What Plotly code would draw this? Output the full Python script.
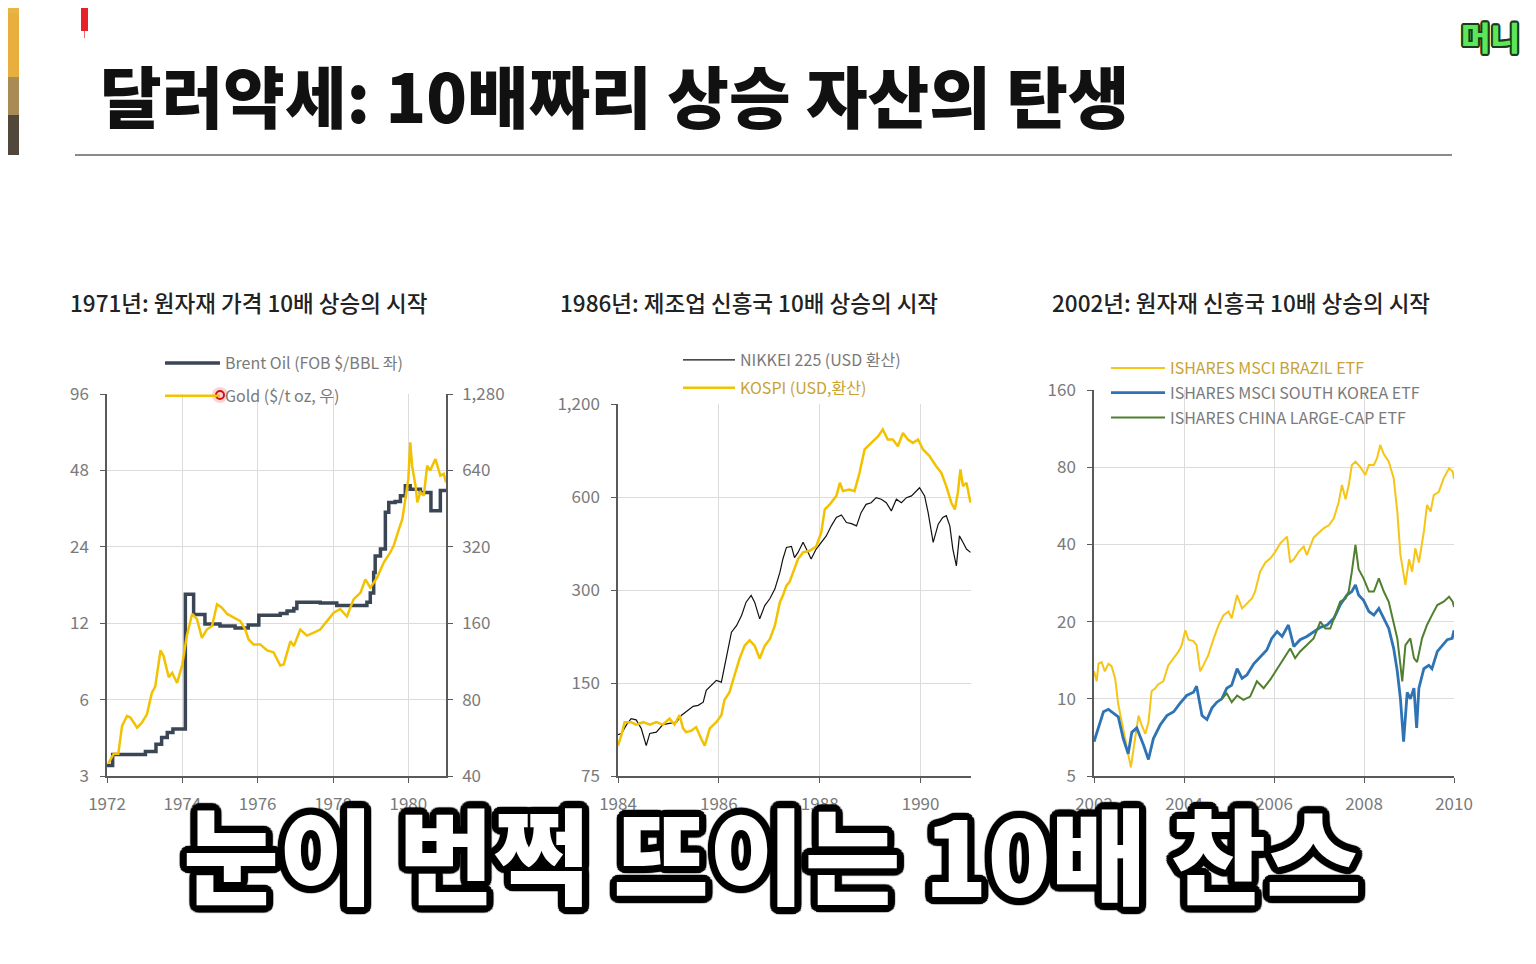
import math
import plotly.graph_objects as go

W, H = 1536, 964

# ---- panel 1: 1971 commodities (Brent oil left axis, gold right axis)
oil_year = [1972.0, 1972.15, 1973.02, 1973.3, 1973.45, 1973.6, 1973.75, 1974.08, 1974.3, 1974.6,
            1975.0, 1975.4, 1975.75, 1976.03, 1976.6, 1976.78, 1976.96, 1977.04, 1977.66, 1978.1,
            1978.7, 1978.9, 1978.99, 1979.08, 1979.12, 1979.26, 1979.39, 1979.48, 1979.65, 1979.79,
            1979.92, 1980.05, 1980.32, 1980.6, 1980.85, 1981.0]
oil_price = [3.3, 3.65, 3.75, 4.0, 4.25, 4.45, 4.6, 15.6, 13.0, 11.9,
             11.7, 11.5, 11.8, 12.9, 13.1, 13.4, 13.7, 14.5, 14.4, 14.1,
             14.1, 14.5, 15.8, 19.0, 22.1, 23.5, 32.8, 35.9, 36.2, 38.1,
             41.8, 40.5, 39.3, 33.3, 40.0, 40.5]

gold_year = [1972.04, 1972.18, 1972.3, 1972.4, 1972.53, 1972.62, 1972.71, 1972.8, 1972.93, 1973.06,
             1973.19, 1973.28, 1973.42, 1973.5, 1973.64, 1973.73, 1973.86, 1974.0, 1974.12, 1974.26,
             1974.39, 1974.52, 1974.65, 1974.79, 1974.92, 1975.05, 1975.19, 1975.36, 1975.54, 1975.67,
             1975.76, 1975.89, 1976.07, 1976.25, 1976.42, 1976.6, 1976.69, 1976.87, 1976.96, 1977.13,
             1977.31, 1977.49, 1977.66, 1977.84, 1978.02, 1978.19, 1978.37, 1978.55, 1978.73, 1978.86,
             1978.99, 1979.17, 1979.35, 1979.52, 1979.61, 1979.75, 1979.84, 1979.92, 1980.0, 1980.05,
             1980.1, 1980.19, 1980.24, 1980.32, 1980.41, 1980.5, 1980.58, 1980.72, 1980.85, 1980.94,
             1981.0]
gold_price = [45, 49, 49, 63, 69, 68, 65, 62, 65, 70,
              85, 90, 125, 119, 98, 102, 93, 110, 143, 174,
              166, 140, 151, 156, 190, 184, 174, 168, 163, 151,
              138, 132, 132, 125, 123, 109, 110, 136, 130, 151,
              143, 147, 151, 163, 176, 182, 170, 199, 211, 238,
              221, 242, 278, 304, 323, 376, 411, 493, 591, 826,
              668, 557, 479, 525, 509, 668, 640, 709, 610, 620,
              574]

# ---- panel 2: 1986 manufacturing EM (USD terms)
nikkei_year = [1984.0, 1984.07, 1984.17, 1984.26, 1984.36, 1984.46, 1984.56, 1984.63, 1984.76, 1984.89,
               1985.02, 1985.16, 1985.26, 1985.35, 1985.49, 1985.59, 1985.69, 1985.75, 1985.85, 1985.95,
               1986.05, 1986.15, 1986.25, 1986.35, 1986.45, 1986.54, 1986.64, 1986.71, 1986.81, 1986.91,
               1987.01, 1987.11, 1987.21, 1987.27, 1987.34, 1987.44, 1987.5, 1987.57, 1987.67, 1987.77,
               1987.83, 1987.93, 1988.03, 1988.13, 1988.23, 1988.33, 1988.43, 1988.53, 1988.63, 1988.73,
               1988.82, 1988.92, 1989.02, 1989.12, 1989.22, 1989.32, 1989.42, 1989.52, 1989.62, 1989.72,
               1989.82, 1989.92, 1989.98, 1990.08, 1990.15, 1990.25, 1990.35, 1990.44, 1990.51, 1990.58,
               1990.64, 1990.71, 1990.77, 1990.84, 1990.91, 1990.99]
nikkei = [102, 103, 110, 115, 114, 107, 94, 103, 104, 110,
          111, 112, 118, 121, 126, 127, 130, 142, 147, 153,
          151, 180, 219, 230, 248, 274, 288, 274, 242, 267,
          281, 302, 342, 378, 412, 415, 382, 397, 428, 397,
          378, 407, 428, 449, 484, 515, 525, 496, 492, 484,
          534, 568, 575, 597, 590, 575, 541, 590, 575, 597,
          605, 627, 643, 605, 534, 428, 490, 515, 522, 484,
          407, 359, 449, 428, 407, 397]

kospi_year = [1984.0, 1984.07, 1984.13, 1984.26, 1984.36, 1984.5, 1984.63, 1984.76, 1984.89, 1985.02,
              1985.12, 1985.22, 1985.29, 1985.35, 1985.45, 1985.55, 1985.65, 1985.72, 1985.82, 1985.95,
              1986.05, 1986.11, 1986.21, 1986.31, 1986.41, 1986.51, 1986.61, 1986.71, 1986.81, 1986.91,
              1987.01, 1987.11, 1987.21, 1987.27, 1987.34, 1987.4, 1987.5, 1987.57, 1987.67, 1987.8,
              1987.93, 1988.03, 1988.1, 1988.2, 1988.33, 1988.4, 1988.46, 1988.59, 1988.69, 1988.79,
              1988.89, 1989.02, 1989.16, 1989.25, 1989.35, 1989.45, 1989.55, 1989.65, 1989.75, 1989.85,
              1989.95, 1990.05, 1990.18, 1990.31, 1990.41, 1990.51, 1990.61, 1990.68, 1990.74, 1990.79,
              1990.84, 1990.91, 1990.99]
kospi = [94, 102, 112, 112, 110, 112, 110, 112, 110, 115,
         110, 118, 107, 104, 105, 108, 99, 94, 107, 112,
         118, 132, 140, 159, 180, 198, 206, 198, 180, 198,
         208, 230, 274, 288, 310, 318, 351, 378, 397, 402,
         415, 460, 547, 568, 605, 667, 627, 634, 627, 719,
         855, 898, 944, 992, 921, 921, 876, 967, 921, 898,
         921, 855, 813, 755, 719, 651, 575, 547, 621, 737,
         651, 667, 575]

# ---- panel 3: 2002 commodity EM ETFs
brazil_year = [2002.0, 2002.06, 2002.1, 2002.17, 2002.24, 2002.32, 2002.39, 2002.47, 2002.54, 2002.62,
               2002.69, 2002.76, 2002.82, 2002.88, 2002.99, 2003.06, 2003.14, 2003.21, 2003.28, 2003.36,
               2003.43, 2003.54, 2003.65, 2003.77, 2003.88, 2003.95, 2004.03, 2004.1, 2004.21, 2004.28,
               2004.36, 2004.43, 2004.54, 2004.66, 2004.77, 2004.88, 2004.99, 2005.06, 2005.18, 2005.29,
               2005.4, 2005.51, 2005.58, 2005.69, 2005.81, 2005.92, 2006.03, 2006.14, 2006.29, 2006.36,
               2006.44, 2006.55, 2006.66, 2006.73, 2006.88, 2006.99, 2007.1, 2007.22, 2007.33, 2007.44,
               2007.51, 2007.59, 2007.66, 2007.73, 2007.81, 2007.92, 2008.03, 2008.11, 2008.22, 2008.29,
               2008.36, 2008.44, 2008.55, 2008.66, 2008.74, 2008.81, 2008.88, 2008.92, 2009.0, 2009.07,
               2009.14, 2009.22, 2009.33, 2009.4, 2009.48, 2009.55, 2009.66, 2009.77, 2009.89, 2009.97,
               2010.0]
brazil = [12.8, 11.7, 13.7, 13.9, 12.8, 13.7, 13.4, 12.0, 9.5, 8.1,
          7.0, 6.0, 5.4, 6.4, 8.6, 7.9, 7.3, 8.1, 10.7, 11.0,
          11.4, 11.7, 13.5, 14.4, 15.3, 16.2, 18.5, 17.0, 16.8, 16.2,
          12.8, 13.5, 14.8, 17.2, 19.4, 21.2, 21.9, 20.6, 25.4, 22.5,
          23.5, 24.6, 26.2, 31.3, 34.0, 35.3, 37.5, 40.4, 42.9, 34.0,
          35.0, 37.5, 39.2, 36.3, 42.5, 44.2, 46.2, 47.5, 50.6, 58.7,
          68.2, 60.0, 68.0, 81.6, 84.0, 80.0, 74.6, 81.6, 81.6, 86.7,
          97.7, 90.0, 84.0, 72.4, 53.7, 36.4, 31.3, 27.8, 35.0, 31.3,
          38.6, 34.0, 44.8, 57.0, 53.7, 62.3, 64.0, 72.4, 79.2, 77.0,
          72.0]

korea_year = [2002.0, 2002.1, 2002.21, 2002.32, 2002.43, 2002.54, 2002.65, 2002.76, 2002.84, 2002.95,
              2003.1, 2003.21, 2003.32, 2003.47, 2003.62, 2003.77, 2003.91, 2004.06, 2004.21, 2004.28,
              2004.4, 2004.51, 2004.62, 2004.73, 2004.84, 2004.95, 2005.06, 2005.18, 2005.29, 2005.4,
              2005.55, 2005.69, 2005.84, 2005.95, 2006.07, 2006.18, 2006.32, 2006.44, 2006.58, 2006.73,
              2006.88, 2007.03, 2007.18, 2007.33, 2007.47, 2007.62, 2007.73, 2007.81, 2007.88, 2007.99,
              2008.11, 2008.22, 2008.33, 2008.44, 2008.55, 2008.66, 2008.74, 2008.81, 2008.85, 2008.88,
              2008.96, 2009.03, 2009.11, 2009.17, 2009.22, 2009.33, 2009.44, 2009.51, 2009.63, 2009.74,
              2009.85, 2009.96, 2010.0]
korea = [6.8, 7.7, 8.9, 9.1, 8.8, 8.5, 7.0, 6.1, 7.4, 7.7,
         6.6, 5.8, 7.0, 7.9, 8.6, 8.9, 9.6, 10.3, 10.6, 11.2,
         8.6, 8.3, 9.2, 9.7, 10.0, 11.0, 11.3, 13.1, 12.0, 12.4,
         13.7, 14.6, 15.5, 17.2, 18.3, 17.5, 19.4, 16.0, 17.0, 17.5,
         18.3, 19.0, 19.4, 20.6, 23.2, 25.4, 26.2, 27.8, 25.4, 24.2,
         21.9, 21.2, 22.5, 20.6, 18.8, 15.7, 12.8, 10.0, 7.9, 6.8,
         10.6, 10.0, 11.0, 7.7, 11.0, 13.1, 13.5, 13.1, 15.3, 16.2,
         17.0, 17.2, 18.5]

china_year = [2004.84, 2004.95, 2005.06, 2005.18, 2005.32, 2005.47, 2005.62, 2005.77, 2005.92, 2006.07,
              2006.21, 2006.36, 2006.47, 2006.58, 2006.73, 2006.88, 2007.03, 2007.14, 2007.25, 2007.36,
              2007.47, 2007.59, 2007.66, 2007.73, 2007.81, 2007.88, 2007.99, 2008.11, 2008.22, 2008.33,
              2008.44, 2008.55, 2008.66, 2008.74, 2008.81, 2008.85, 2008.92, 2009.03, 2009.11, 2009.18,
              2009.29, 2009.4, 2009.51, 2009.63, 2009.77, 2009.89, 2009.97, 2010.0]
china = [10.0, 10.5, 9.7, 10.3, 9.9, 10.2, 11.7, 11.0, 11.9, 13.1,
         14.4, 15.7, 14.4, 15.3, 16.2, 17.2, 20.0, 18.8, 18.8, 21.2,
         23.9, 24.6, 26.2, 31.3, 39.8, 32.0, 29.5, 26.2, 26.2, 29.5,
         26.2, 23.9, 20.0, 17.2, 13.5, 11.7, 16.2, 17.2, 14.4, 13.9,
         17.2, 19.4, 21.2, 23.2, 23.9, 25.0, 23.9, 22.8]

# tick labels
p1_years = [1972, 1974, 1976, 1978, 1980]
p1_left = [3, 6, 12, 24, 48, 96]
p1_right = [40, 80, 160, 320, 640, 1280]
p1_right_text = ["40", "80", "160", "320", "640", "1,280"]
p2_years = [1984, 1986, 1988, 1990]
p2_ticks = [75, 150, 300, 600, 1200]
p2_text = ["75", "150", "300", "600", "1,200"]
p3_years = [2002, 2004, 2006, 2008, 2010]
p3_ticks = [5, 10, 20, 40, 80, 160]

# the page body adds an 8px margin, so positions are shifted back by that much
OFF = 8


def px(x):
    return (x - OFF) / W


def py(y):
    return 1 - (y - OFF) / H


FONT = "Noto Sans CJK KR, Noto Sans, sans-serif"
GRID = "#dcdcdc"
AXIS = "#5a5a5a"
TICKF = dict(family=FONT, size=17, color="#7a7a7a")
GOLD = "#f2c200"
LEGF = dict(family=FONT, size=16, color="#7a7a7a")

fig = go.Figure()

fig.add_trace(go.Scatter(x=oil_year, y=oil_price, mode="lines", line_shape="hv",
                         name="Brent Oil (FOB $/BBL 좌)", line=dict(color="#3a4656", width=3.5),
                         xaxis="x", yaxis="y", legend="legend", legendgroup="a"))
fig.add_trace(go.Scatter(x=gold_year, y=gold_price, mode="lines",
                         name="Gold ($/t oz, 우)", line=dict(color=GOLD, width=2.5),
                         xaxis="x", yaxis="y2", legend="legend", legendgroup="b"))

fig.add_trace(go.Scatter(x=nikkei_year, y=nikkei, mode="lines",
                         name="NIKKEI 225 (USD 환산)", line=dict(color="#111111", width=1.2),
                         xaxis="x2", yaxis="y3", legend="legend2", legendgroup="c"))
fig.add_trace(go.Scatter(x=kospi_year, y=kospi, mode="lines",
                         name="<span style='color:#c9a233'>KOSPI (USD,환산)</span>",
                         line=dict(color=GOLD, width=2.5),
                         xaxis="x2", yaxis="y3", legend="legend2", legendgroup="d"))

fig.add_trace(go.Scatter(x=brazil_year, y=brazil, mode="lines",
                         name="<span style='color:#c9a233'>ISHARES MSCI BRAZIL ETF</span>",
                         line=dict(color="#f5c518", width=2),
                         xaxis="x3", yaxis="y4", legend="legend3", legendgroup="e"))
fig.add_trace(go.Scatter(x=korea_year, y=korea, mode="lines",
                         name="ISHARES MSCI SOUTH KOREA ETF", line=dict(color="#2e74b5", width=2.8),
                         xaxis="x3", yaxis="y4", legend="legend3", legendgroup="f"))
fig.add_trace(go.Scatter(x=china_year, y=china, mode="lines",
                         name="ISHARES CHINA LARGE-CAP ETF", line=dict(color="#4f7f2f", width=2),
                         xaxis="x3", yaxis="y4", legend="legend3", legendgroup="g"))

xcommon = dict(ticks="outside", ticklen=5, tickcolor=AXIS, showline=True, linecolor=AXIS,
               linewidth=1.5, showgrid=True, gridcolor=GRID, zeroline=False, tickfont=TICKF,
               ticklabelstandoff=7, automargin=False)
ycommon = dict(type="log", ticks="outside", ticklen=5, tickcolor=AXIS, showline=True,
               linecolor=AXIS, linewidth=1.5, showgrid=True, gridcolor=GRID, zeroline=False,
               tickfont=TICKF, ticklabelstandoff=8, automargin=False)

fig.update_layout(
    width=W, height=H,
    margin=dict(l=0, r=0, t=0, b=0, autoexpand=False),
    paper_bgcolor="white", plot_bgcolor="white",
    xaxis=dict(domain=[px(107), px(446)], anchor="y", range=[1972, 1981], tickvals=p1_years, **xcommon),
    yaxis=dict(domain=[py(776), py(394)], anchor="x", range=[math.log10(3), math.log10(96)],
               tickvals=p1_left, ticktext=[str(v) for v in p1_left], **ycommon),
    yaxis2=dict(overlaying="y", side="right", anchor="x", type="log",
                range=[math.log10(40), math.log10(1280)], tickvals=p1_right, ticktext=p1_right_text,
                ticks="outside", ticklen=5, tickcolor=AXIS, showline=True, linecolor=AXIS,
                linewidth=1.5, showgrid=False, zeroline=False, tickfont=TICKF, ticklabelstandoff=6,
                automargin=False),
    xaxis2=dict(domain=[px(618), px(971)], anchor="y3", range=[1984, 1991], tickvals=p2_years, **xcommon),
    yaxis3=dict(domain=[py(776), py(404)], anchor="x2", range=[math.log10(75), math.log10(1200)],
                tickvals=p2_ticks, ticktext=p2_text, **ycommon),
    xaxis3=dict(domain=[px(1094), px(1454)], anchor="y4", range=[2002, 2010], tickvals=p3_years, **xcommon),
    yaxis4=dict(domain=[py(776), py(390)], anchor="x3", range=[math.log10(5), math.log10(160)],
                tickvals=p3_ticks, ticktext=[str(v) for v in p3_ticks], **ycommon),
    legend=dict(x=px(160), y=py(346), xanchor="left", yanchor="top", bgcolor="rgba(0,0,0,0)",
                font=LEGF, itemwidth=55, tracegroupgap=9, traceorder="grouped"),
    legend2=dict(x=px(678), y=py(343), xanchor="left", yanchor="top", bgcolor="rgba(0,0,0,0)",
                 font=LEGF, itemwidth=52, tracegroupgap=4, traceorder="grouped"),
    legend3=dict(x=px(1106), y=py(351), xanchor="left", yanchor="top", bgcolor="rgba(0,0,0,0)",
                 font=LEGF, itemwidth=54, tracegroupgap=1, traceorder="grouped"),
    showlegend=True,
)

# slide title and panel titles
fig.add_annotation(text="달러약세: 10배짜리 상승 자산의 탄생", x=px(98), y=py(93), xref="paper", yref="paper",
                   xanchor="left", yanchor="middle", showarrow=False,
                   font=dict(family=FONT, size=67, color="#111111", weight=900))
panel_titles = [("1971년: 원자재 가격 10배 상승의 시작", 68),
                ("1986년: 제조업 신흥국 10배 상승의 시작", 558),
                ("2002년: 원자재 신흥국 10배 상승의 시작", 1050)]
for text, x0 in panel_titles:
    fig.add_annotation(text=text, x=px(x0), y=py(302), xref="paper", yref="paper",
                       xanchor="left", yanchor="middle", showarrow=False,
                       font=dict(family=FONT, size=22.5, color="#222222", weight=500))

# subtitle caption with thick black outline
outline = ", ".join(
    f"{7 * math.cos(a * math.pi / 12):.1f}px {7 * math.sin(a * math.pi / 12):.1f}px 1px #000"
    for a in range(24))
fig.add_annotation(text="눈이 번쩍 뜨이는 10배 찬스", x=px(772), y=py(851), xref="paper", yref="paper",
                   xanchor="center", yanchor="middle", showarrow=False,
                   font=dict(family=FONT, size=104, color="white", weight=900, shadow=outline))

# channel logo
logo_outline = ", ".join(
    f"{2 * math.cos(a * math.pi / 6):.1f}px {2 * math.sin(a * math.pi / 6):.1f}px 0px #1a3a1a"
    for a in range(12))
fig.add_annotation(text="머니", x=px(1459), y=py(36), xref="paper", yref="paper",
                   xanchor="left", yanchor="middle", showarrow=False,
                   font=dict(family=FONT, size=32, color="#5ce65a", weight=900, shadow=logo_outline))

# decorations: title rule, left colour strip, red marker, cursor dot
fig.add_shape(type="line", xref="paper", yref="paper", x0=px(75), x1=px(1452), y0=py(155), y1=py(155),
              line=dict(color="#8a8a8a", width=2))
strip = [(0, 13, "#e9b545"), (13, 77, "#e8ae3e"), (77, 115, "#a98b55"), (115, 155, "#51473a")]
for y0, y1, col in strip:
    fig.add_shape(type="rect", xref="paper", yref="paper", x0=px(5), x1=px(19), y0=py(y1), y1=py(y0),
                  fillcolor=col, line_width=0)
fig.add_shape(type="rect", xref="paper", yref="paper", x0=px(81), x1=px(88), y0=py(31), y1=py(6),
              fillcolor="#e8202a", line_width=0)
fig.add_shape(type="line", xref="paper", yref="paper", x0=px(84.5), x1=px(84.5), y0=py(38), y1=py(31),
              line=dict(color="#f07070", width=1))
fig.add_shape(type="circle", xref="paper", yref="paper", x0=px(212), x1=px(228), y0=py(403), y1=py(387),
              fillcolor="rgba(255,80,80,0.25)", line_width=0)
fig.add_shape(type="circle", xref="paper", yref="paper", x0=px(216), x1=px(224), y0=py(399), y1=py(391),
              fillcolor="rgba(255,255,255,0)", line=dict(color="#d0101a", width=2))

fig.write_html("out.html")
